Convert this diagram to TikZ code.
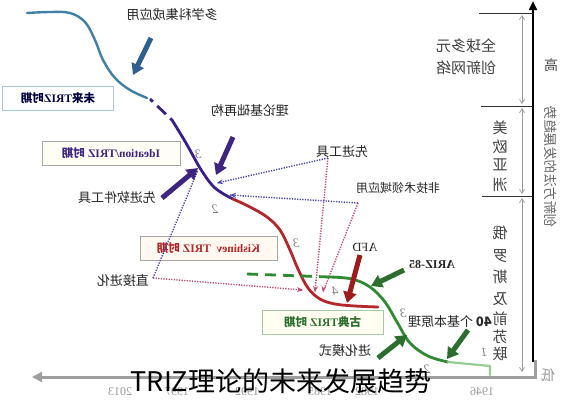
\documentclass[tikz,border=0pt]{standalone}
\usepackage{fontspec}
\usepackage{graphicx}
\setmainfont{Liberation Serif}
\newfontfamily\cjk{Noto Sans CJK SC}
\usetikzlibrary{arrows.meta,calc}
\newcommand{\mr}[1]{\reflectbox{#1}}
\definecolor{cblue}{HTML}{3F7FA8}
\definecolor{cpurple}{HTML}{3A1F8A}
\definecolor{cred}{HTML}{B5262A}
\definecolor{cgreen}{HTML}{2F8A32}
\definecolor{clgreen}{HTML}{96CC94}
\definecolor{agreen}{HTML}{2B6E2D}
\definecolor{ared}{HTML}{9E1B1B}
\definecolor{apurple}{HTML}{3D2580}
\definecolor{ablue}{HTML}{2F5F8F}
\definecolor{dblue}{HTML}{4A4AA8}
\definecolor{dpink}{HTML}{C05070}
\tikzset{
  lbl/.style={font=\cjk\fontsize{13}{15}\selectfont, text=black!85, inner sep=0pt},
  col/.style={font=\cjk\fontsize{15}{17}\selectfont, text=black!75, inner sep=0pt},
  num/.style={font=\itshape\fontsize{13}{15}\selectfont, text=black!50, inner sep=0pt},
  yr/.style={font=\fontsize{12}{14}\selectfont, text=black!40, inner sep=0pt},
  period/.style={draw=black!35, line width=0.8pt, minimum height=24pt, inner sep=0pt,
    font=\bfseries\fontsize{11.5}{13}\selectfont},
  bigarrow/.style={line width=5pt, -{Triangle[width=13pt,length=11pt]}},
  dotline/.style={line width=1.4pt, dash pattern=on 1.3pt off 1.3pt},
  dottip/.style={-{Stealth[length=6pt,width=5pt]}},
  curve/.style={line width=2.8pt, line cap=round, line join=round}
}
\begin{document}
\begin{tikzpicture}[x=1pt,y=-1pt]
\useasboundingbox (0,0) rectangle (563,400);
\fill[white] (0,0) rectangle (563,400);

% ---------- right axis and scale ----------
\coordinate (axb) at (533,362);
\coordinate (axt) at (533,1);
\draw[line width=2.5pt, black, -{Triangle[width=8pt,length=9pt]}] (axb) -- (axt);
\draw[black!80, line width=1pt] (479,13) -- (533,13);
\draw[black!80, line width=1pt] (481,106) -- (533,106);
\draw[black!80, line width=1pt] (482,196) -- (533,196);
\tikzset{garr/.style={black!40, line width=0.7pt, {Straight Barb[length=4pt,width=5pt]}-{Straight Barb[length=4pt,width=5pt]}}}
\coordinate (g1) at (522,15); \coordinate (g2) at (522,104);
\coordinate (g3) at (522,108); \coordinate (g4) at (522,194);
\coordinate (g5) at (522,198); \coordinate (g6) at (522,372);
\draw[garr] (g1) -- (g2);
\draw[garr] (g3) -- (g4);
\draw[garr] (g5) -- (g6);

% ---------- bottom time axis ----------
\coordinate (tr) at (535,360);
\coordinate (tc) at (535,377);
\coordinate (tl) at (32,377);
\draw[black!38, line width=3pt, -{Triangle[width=10pt,length=10pt]}] (tr) -- (tc) -- (tl);

% ---------- right column labels ----------
\node[col] (n1) at (466,46) {\mr{全球多元}};
\node[col] (n2) at (466,68) {\mr{创新网络}};
\foreach \c/\y [count=\i] in {美/128,欧/147,亚/165,洲/185}
  \node[col] (m\i) at (500,\y) {\mr{\c}};
\foreach \c/\y [count=\i] in {俄/233,罗/256,斯/277,及/299,前/319,苏/337,联/354}
  \node[col] (r\i) at (500,\y) {\mr{\c}};
\node[col, text=black!70, font=\cjk\fontsize{14}{16}\selectfont] (hi) at (551,65) {\mr{高}};
\node[col, text=black!40, font=\cjk\fontsize{14}{16}\selectfont] (lo) at (548,375) {\mr{低}};
\node[col, text=black!60, font=\cjk\fontsize{13.5}{16}\selectfont, rotate=-90] (vt) at (551,167) {\mr{创新方法的发展趋势}};

% ---------- years ----------
\node[yr] (y1) at (120,392) {\mr{2013}};
\node[yr] (y2) at (177,392) {\mr{1997}};
\node[yr] (y3) at (247,392) {\mr{1992}};
\node[yr] (y4) at (320,392) {\mr{1985}};
\node[yr] (y5) at (367,392) {\mr{1982}};
\node[yr] (y6) at (482,392) {\mr{1946}};

% ---------- period boxes ----------
\node[period, fill=white, draw=cblue!45, minimum width=111pt, text=black!75!blue] (pf) at (58,98)
  {\mr{{\cjk 未来}TRIZ{\cjk 时期}}};
\node[period, fill=yellow!4, minimum width=138pt, text=apurple] (pi) at (111,153.5)
  {\mr{Ideation/TRIZ {\cjk 时期}}};
\node[period, fill=orange!5, minimum width=137pt, text=cred] (pk) at (208.5,248)
  {\mr{Kishinev\ \ TRIZ {\cjk 时期}}};
\node[period, fill=yellow!6, draw=green!40!black!35, minimum width=121pt, text=agreen] (pc) at (322.5,322)
  {\mr{{\cjk 古典}TRIZ {\cjk 时期}}};

% ---------- dotted connectors ----------
\coordinate (v1) at (328,158);
\coordinate (v2) at (358,203);
\coordinate (v3) at (153,278);
\coordinate (e1) at (217,183);
\coordinate (e2) at (230,195);
\coordinate (e3) at (315,292);
\coordinate (e4) at (323,292);
\coordinate (e5) at (303,290);
\coordinate (e6) at (198,170);
\draw[dotline, dpink] (v1) -- (e3);
\draw[dotline, dpink] (v2) -- (e4);
\draw[dotline, dpink] (v3) -- (e5);
\draw[dotline, dblue] (v1) -- (e1);
\draw[dotline, dblue] (v2) -- (e2);
\draw[dotline, dblue] (v3) -- (e6);
\draw[dottip, dpink, line width=1.2pt] ($(e3)+(0.2,-2)$) -- (e3);
\draw[dottip, dpink, line width=1.2pt] ($(e4)+(0.3,-2)$) -- (e4);
\draw[dottip, dpink, line width=1.2pt] ($(e5)+(-2,-0.15)$) -- (e5);
\draw[dottip, dblue, line width=1.2pt] ($(e1)+(2,-0.45)$) -- (e1);
\draw[dottip, dblue, line width=1.2pt] ($(e2)+(2,0.1)$) -- (e2);

% ---------- curves ----------
\draw[curve, cblue, line width=2.4pt] plot[smooth, tension=0.6] coordinates
  {(27,13) (50,12) (70,13) (85,22) (95,40) (103,60) (115,78) (130,90) (147,98)};
\draw[curve, cpurple, line cap=butt, dash pattern=on 4pt off 6pt on 12pt off 6pt] (150,99) -- (172,120);
\draw[curve, cpurple] plot[smooth, tension=0.6] coordinates
  {(172,120) (186,143) (200,168) (212,185) (222,193) (233,199)};
\draw[curve, cred] plot[smooth, tension=0.6] coordinates
  {(233,199) (250,207) (267,217) (280,230) (290,250) (298,269) (308,288) (320,299) (335,304) (355,306) (378,307)};
\draw[curve, cgreen, line cap=butt, dash pattern=on 11pt off 7pt] (247,274) -- (330,277);
\draw[curve, cgreen] plot[smooth, tension=0.6] coordinates
  {(330,277) (352,279) (370,287) (385,302) (397,322) (410,343) (428,356) (448,362)};
\draw[curve, clgreen, line width=2.2pt] (448,362) -- (490,366) -- (490,375);

% ---------- numbers ----------
\node[num] (k1) at (198,154) {\mr{3}};
\node[num] (k2) at (215,209) {\mr{2}};
\node[num] (k3) at (296,243) {\mr{3}};
\node[num] (k4) at (335,291) {\mr{4}};
\node[num] (k5) at (403,313) {\mr{3}};
\node[num] (k6) at (427,369) {\mr{2}};
\node[num] (k7) at (484,352) {\mr{1}};

% ---------- labels ----------
\node[lbl] (t1) at (172,15) {\mr{多学科集成应用}};
\node[lbl] (t2) at (250,111) {\mr{理论基础再构}};
\node[lbl] (t3) at (342,152) {\mr{先进工具}};
\node[lbl, font=\cjk\fontsize{12}{14}\selectfont] (t4) at (398,188) {\mr{非技术领域应用}};
\node[lbl] (t5) at (117,198) {\mr{先进软件工具}};
\node[lbl, font=\fontsize{12.5}{14}\selectfont] (t6) at (365,247) {\mr{AFD}};
\node[lbl, font=\bfseries\fontsize{12}{14}\selectfont] (t7) at (432,265) {\mr{ARIZ-85}};
\node[lbl] (t8) at (450,322) {\mr{\textbf{40} 个基本原理}};
\node[lbl] (t9) at (345,351) {\mr{进化模式}};
\node[lbl] (t10) at (123,281) {\mr{直接进化}};

% ---------- big arrows ----------
\coordinate (b1s) at (151,38);  \coordinate (b1e) at (133,75);
\coordinate (p1s) at (233,137); \coordinate (p1e) at (216,175);
\coordinate (p2s) at (162,198); \coordinate (p2e) at (198,168);
\coordinate (r1s) at (360,255); \coordinate (r1e) at (347,303);
\coordinate (g7s) at (404,270); \coordinate (g7e) at (371,286);
\coordinate (g8s) at (468,330); \coordinate (g8e) at (447,359);
\coordinate (g9s) at (378,358); \coordinate (g9e) at (407,335);
\draw[bigarrow, ablue] (b1s) -- (b1e);
\draw[bigarrow, apurple] (p1s) -- (p1e);
\draw[bigarrow, apurple] (p2s) -- (p2e);
\draw[bigarrow, ared] (r1s) -- (r1e);
\draw[bigarrow, agreen] (g7s) -- (g7e);
\draw[bigarrow, agreen] (g8s) -- (g8e);
\draw[bigarrow, agreen] (g9s) -- (g9e);

% ---------- overlay title ----------
\node[inner sep=0pt, font=\cjk\fontsize{27}{30}\selectfont, text=black] (title) at (281,381) {TRIZ理论的未来发展趋势};
\end{tikzpicture}
\end{document}
